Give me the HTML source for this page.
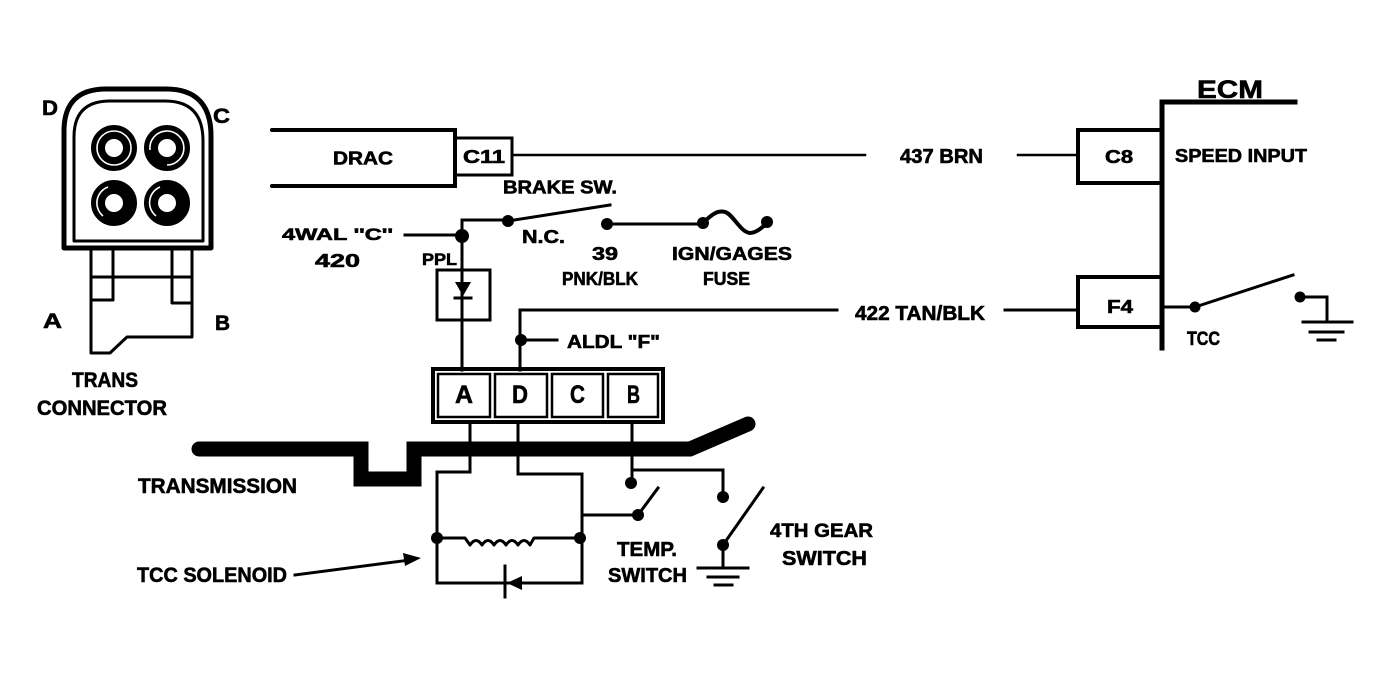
<!DOCTYPE html>
<html><head><meta charset="utf-8"><style>
html,body{margin:0;padding:0;background:#fff;}
svg{display:block;}
text{font-family:"Liberation Sans",Arial,sans-serif;font-weight:bold;fill:#000;stroke:#000;stroke-width:0.6;}
</style></head><body>
<svg width="1390" height="673" viewBox="0 0 1390 673" xmlns="http://www.w3.org/2000/svg">
<rect width="1390" height="673" fill="#fff"/>
<g fill="none" stroke="#000" stroke-linecap="round" stroke-linejoin="round">
<!-- Trans connector -->
<path d="M64,248 V131 Q64,89 106,89 H166 Q211,89 211,136 V248 Z" stroke-width="5"/>
<path d="M74,241 V137 Q74,101 110,101 H165 Q203,101 203,141 V241 Z" stroke-width="3"/>
<path d="M91,250 V353 H110 L127,337 H192 V250" stroke-width="3"/>
<path d="M113,250 V300 H91 M172,250 V303 H190 M91,277 H190" stroke-width="3"/>
</g>
<g fill="none" stroke="#000">
<circle cx="114" cy="148" r="16" stroke-width="14"/>
<circle cx="167" cy="148" r="16" stroke-width="14"/>
<circle cx="114" cy="203" r="16" stroke-width="14"/>
<circle cx="167" cy="203" r="16" stroke-width="14"/>
<g stroke="#fff" stroke-width="1.6">
<circle cx="114" cy="148" r="17"/>
<path d="M150,150 A17,17 0 1 1 167,165"/>
<path d="M103,216 A17,17 0 0 1 108,187"/>
<path d="M156,216 A17,17 0 0 1 160,187"/>
</g>
</g>
<g fill="none" stroke="#000" stroke-linecap="square" stroke-linejoin="miter">
<!-- DRAC -->
<path d="M272,130 H455 V186 H272" stroke-width="4" stroke-linecap="round"/>
<rect x="455" y="138" width="57" height="37" stroke-width="3"/>
<path d="M512,155 H865 M1018,155 H1078" stroke-width="2.5"/>
<!-- ECM -->
<rect x="1078" y="130" width="84" height="53" stroke-width="4"/>
<rect x="1078" y="277" width="84" height="50" stroke-width="4"/>
<path d="M1162,102 V348 M1162,102 H1295" stroke-width="5"/>
<path d="M1162,307 H1195" stroke-width="3"/>
<path d="M1195,307 L1293,275" stroke-width="3"/>
<path d="M1300,297 H1327 V322" stroke-width="3"/>
<path d="M1303,322 H1352 M1310,332 H1343 M1318,340 H1335" stroke-width="3"/>
<!-- 4WAL / brake -->
<path d="M405,235 H462 V220 H508" stroke-width="3"/>
<path d="M508,221 L610,205" stroke-width="3"/>
<path d="M607,224 H703" stroke-width="3"/>
<path d="M703,223 C712,214 718,210 725,212 C733,214 740,232 750,233 C756,233 762,228 767,223" stroke-width="4"/>
<path d="M462,236 V370" stroke-width="3"/>
<rect x="437" y="270" width="53" height="50" stroke-width="3"/>
<path d="M455,298 H471" stroke-width="3"/>
<!-- ALDL -->
<path d="M520,370 V310 H837 M1005,310 H1078" stroke-width="3"/>
<path d="M521,340 H557" stroke-width="3"/>
<!-- ADCB -->
<rect x="433" y="369" width="230" height="53" stroke-width="4"/>
<rect x="438" y="374" width="52" height="43" stroke-width="2.5"/>
<rect x="495" y="374" width="52" height="43" stroke-width="2.5"/>
<rect x="552" y="374" width="51" height="43" stroke-width="2.5"/>
<rect x="608" y="374" width="50" height="43" stroke-width="2.5"/>
<path d="M470,423 V472 H437 V583 H582 V474 H518 V423" stroke-width="3"/>
<path d="M632,423 V483 M632,470 H723 V497" stroke-width="3"/>
<path d="M582,515 H638" stroke-width="3"/>
<path d="M638,515 L658,488" stroke-width="3"/>
<path d="M723,545 L763,488" stroke-width="3"/>
<path d="M723,545 V568 M698,568 H748 M708,577 H738 M715,585 H732" stroke-width="3"/>
<!-- coil -->
<path d="M437,538 H465 L470,545 Q476,536 482,545 Q488,536 494,545 Q500,536 506,545 Q512,536 518,545 Q524,536 530,545 L534,538 H582" stroke-width="3" stroke-linejoin="round"/>
<path d="M505,566 V597" stroke-width="3"/>
<!-- arrow -->
<path d="M295,575 L410,560" stroke-width="3"/>
</g>
<!-- transmission bar -->
<path d="M199,449 H361 V479 H414 V449 H690 L748,424" fill="none" stroke="#000" stroke-width="15" stroke-linejoin="miter" stroke-linecap="round"/>
<g fill="#000">
<circle cx="1195" cy="307" r="5.5"/>
<circle cx="1300" cy="297" r="5.5"/>
<circle cx="462" cy="236" r="7"/>
<circle cx="508" cy="221" r="6"/>
<circle cx="607" cy="224" r="6"/>
<circle cx="703" cy="223" r="6"/>
<circle cx="767" cy="222" r="6"/>
<circle cx="521" cy="340" r="6"/>
<circle cx="437" cy="538" r="6"/>
<circle cx="580" cy="538" r="6"/>
<circle cx="638" cy="515" r="6"/>
<circle cx="631" cy="483" r="6"/>
<circle cx="723" cy="497" r="6"/>
<circle cx="723" cy="545" r="6"/>
<polygon points="455,282 471,282 463,296"/>
<polygon points="507,583 522,576 522,590"/>
<polygon points="421,558 403,553 405,566"/>
</g>
<!-- labels -->
<text x="42" y="115" font-size="21" textLength="16" lengthAdjust="spacingAndGlyphs">D</text>
<text x="213" y="123" font-size="21" textLength="17" lengthAdjust="spacingAndGlyphs">C</text>
<text x="43" y="328" font-size="21" textLength="19" lengthAdjust="spacingAndGlyphs">A</text>
<text x="215" y="330" font-size="21" textLength="15" lengthAdjust="spacingAndGlyphs">B</text>
<text x="72" y="387" font-size="21" textLength="66" lengthAdjust="spacingAndGlyphs">TRANS</text>
<text x="37" y="415" font-size="21" textLength="130" lengthAdjust="spacingAndGlyphs">CONNECTOR</text>
<text x="333" y="164.5" font-size="18" textLength="60" lengthAdjust="spacingAndGlyphs">DRAC</text>
<text x="463" y="163" font-size="18" textLength="42" lengthAdjust="spacingAndGlyphs">C11</text>
<text x="503" y="193.5" font-size="18" textLength="114" lengthAdjust="spacingAndGlyphs">BRAKE SW.</text>
<text x="282" y="240" font-size="17" textLength="111" lengthAdjust="spacingAndGlyphs">4WAL ''C''</text>
<text x="315" y="267" font-size="18" textLength="45" lengthAdjust="spacingAndGlyphs">420</text>
<text x="422" y="265" font-size="17" textLength="35" lengthAdjust="spacingAndGlyphs">PPL</text>
<text x="522" y="243" font-size="18" textLength="43" lengthAdjust="spacingAndGlyphs">N.C.</text>
<text x="592" y="260" font-size="18" textLength="26" lengthAdjust="spacingAndGlyphs">39</text>
<text x="562" y="285" font-size="18" textLength="76" lengthAdjust="spacingAndGlyphs">PNK/BLK</text>
<text x="672" y="260" font-size="18" textLength="120" lengthAdjust="spacingAndGlyphs">IGN/GAGES</text>
<text x="703" y="285" font-size="18" textLength="47" lengthAdjust="spacingAndGlyphs">FUSE</text>
<text x="900" y="163" font-size="20" textLength="83" lengthAdjust="spacingAndGlyphs">437 BRN</text>
<text x="855" y="320" font-size="20" textLength="130" lengthAdjust="spacingAndGlyphs">422 TAN/BLK</text>
<text x="1197" y="98" font-size="25" textLength="66" lengthAdjust="spacingAndGlyphs">ECM</text>
<text x="1105" y="163" font-size="18" textLength="28" lengthAdjust="spacingAndGlyphs">C8</text>
<text x="1175" y="162" font-size="18" textLength="132" lengthAdjust="spacingAndGlyphs">SPEED INPUT</text>
<text x="1107" y="313" font-size="18" textLength="26" lengthAdjust="spacingAndGlyphs">F4</text>
<text x="1187" y="345" font-size="19" textLength="33" lengthAdjust="spacingAndGlyphs">TCC</text>
<text x="567" y="348" font-size="18" textLength="93" lengthAdjust="spacingAndGlyphs">ALDL "F"</text>
<text x="455" y="403" font-size="25" textLength="18" lengthAdjust="spacingAndGlyphs">A</text>
<text x="512" y="403" font-size="25" textLength="16" lengthAdjust="spacingAndGlyphs">D</text>
<text x="570" y="403" font-size="25" textLength="15" lengthAdjust="spacingAndGlyphs">C</text>
<text x="627" y="403" font-size="25" textLength="13" lengthAdjust="spacingAndGlyphs">B</text>
<text x="138" y="493" font-size="21" textLength="159" lengthAdjust="spacingAndGlyphs">TRANSMISSION</text>
<text x="137" y="582" font-size="21" textLength="150" lengthAdjust="spacingAndGlyphs">TCC SOLENOID</text>
<text x="617" y="556" font-size="20" textLength="60" lengthAdjust="spacingAndGlyphs">TEMP.</text>
<text x="608" y="582" font-size="20" textLength="79" lengthAdjust="spacingAndGlyphs">SWITCH</text>
<text x="770" y="537" font-size="19" textLength="103" lengthAdjust="spacingAndGlyphs">4TH GEAR</text>
<text x="782" y="565" font-size="20" textLength="85" lengthAdjust="spacingAndGlyphs">SWITCH</text>
</svg>
</body></html>
